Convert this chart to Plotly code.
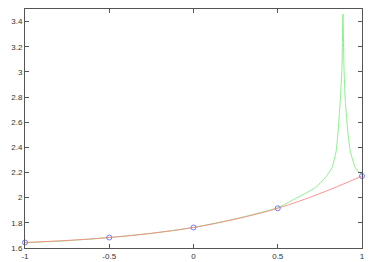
import plotly.graph_objects as go

# Red curve
red_x = [-1.0, -0.75, -0.5, -0.25, 0.0, 0.25, 0.5, 0.75, 1.0]
red_y = [1.644, 1.66, 1.683, 1.717, 1.763, 1.83, 1.916, 2.033, 2.172]

# Green curve
green_x = [-1.0, -0.75, -0.5, -0.25, 0.0, 0.25, 0.5, 0.594, 0.651, 0.723, 0.782, 0.822,
           0.847, 0.857, 0.871, 0.881, 0.887, 0.893, 0.901, 0.917, 0.930, 0.960, 0.980, 1.0]
green_y = [1.642, 1.658, 1.683, 1.716, 1.763, 1.832, 1.92, 1.985, 2.025, 2.08, 2.16, 2.239,
           2.373, 2.509, 2.771, 3.035, 3.46, 3.035, 2.771, 2.509, 2.373, 2.239, 2.205, 2.178]

# Sample points (blue circles)
pts_x = [-1.0, -0.5, 0.0, 0.5, 1.0]
pts_y = [1.644, 1.683, 1.763, 1.916, 2.172]

x_tick_vals = [-1, -0.5, 0, 0.5, 1]
x_tick_text = ["-1", "-0.5", "0", "0.5", "1"]
y_tick_vals = [1.6, 1.8, 2.0, 2.2, 2.4, 2.6, 2.8, 3.0, 3.2, 3.4]
y_tick_text = ["1.6", "1.8", "2", "2.2", "2.4", "2.6", "2.8", "3", "3.2", "3.4"]

fig = go.Figure()
fig.add_trace(go.Scatter(x=green_x, y=green_y, mode="lines", line_shape="spline",
                         line=dict(color="rgb(140,240,140)", width=1, smoothing=0.5),
                         showlegend=False))
fig.add_trace(go.Scatter(x=red_x, y=red_y, mode="lines", line_shape="spline",
                         line=dict(color="rgb(255,130,130)", width=1), opacity=0.85,
                         showlegend=False))
fig.add_trace(go.Scatter(x=pts_x, y=pts_y, mode="markers",
                         marker=dict(symbol="circle-open", size=5,
                                     color="rgb(120,120,255)", line=dict(width=1)),
                         showlegend=False, cliponaxis=False))

axis_common = dict(showgrid=False, zeroline=False, showline=True, linecolor="#555555",
                   linewidth=1, mirror="ticks", ticks="inside", ticklen=4, automargin=False,
                   tickcolor="#555555", tickfont=dict(family="Liberation Sans", size=8,
                                                      color="#333333"))
fig.update_xaxes(range=[-1, 1], tickvals=x_tick_vals, ticktext=x_tick_text, **axis_common)
fig.update_yaxes(range=[1.6, 3.5], tickvals=y_tick_vals, ticktext=y_tick_text, **axis_common)

fig.update_layout(width=374, height=262, margin=dict(l=25, r=12, t=9, b=14, pad=0),
                  plot_bgcolor="white", paper_bgcolor="white")

fig.write_html("out.html", config={"displayModeBar": False},
               post_script="document.body.style.margin='0';document.body.style.overflow='hidden';")
